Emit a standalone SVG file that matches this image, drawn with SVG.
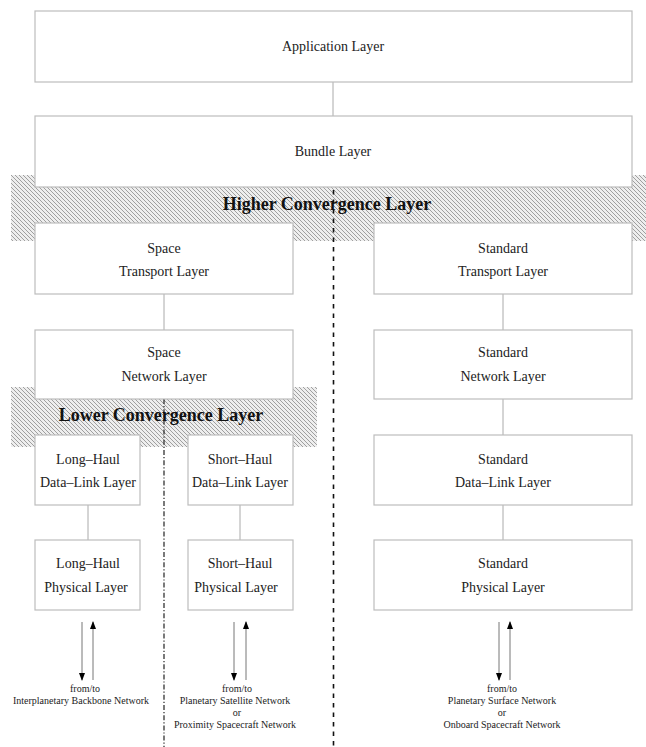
<svg xmlns="http://www.w3.org/2000/svg" width="646" height="747" viewBox="0 0 646 747">
<style>
.box{fill:#fff;stroke:#bdbdbd;stroke-width:1.2}
.lbl{font-family:"Liberation Serif","Times New Roman",serif;font-size:14px;fill:#222;text-anchor:middle}
.big{font-family:"Liberation Serif","Times New Roman",serif;font-size:18px;font-weight:bold;fill:#111;text-anchor:middle}
.sm{font-family:"Liberation Serif","Times New Roman",serif;font-size:10px;fill:#222;text-anchor:middle}
.conn{stroke:#aaa;stroke-width:1;fill:none}
.arr{stroke:#777;stroke-width:1;fill:none}
</style>
<defs>
<pattern id="hatch" patternUnits="userSpaceOnUse" width="4" height="4">
<rect width="4" height="4" fill="#eeeeee"/>
<path d="M-1,-1 L5,5 M-1,3 L1,5 M3,-1 L5,1" stroke="#8a8a8a" stroke-width="0.8"/>
</pattern>
<marker id="ah" markerWidth="8" markerHeight="8" refX="7" refY="3" orient="auto" markerUnits="userSpaceOnUse">
<path d="M0,0 L8,3 L0,6 Z" fill="#000"/>
</marker>
</defs>
<g id="hatches">
<rect x="11" y="175" width="635" height="66" fill="url(#hatch)"/>
<rect x="11" y="387" width="306" height="60" fill="url(#hatch)"/>
</g>
<g id="connectors">
<line class="conn" x1="333" y1="82" x2="333" y2="116"/>
<line class="conn" x1="164" y1="294" x2="164" y2="330"/>
<line class="conn" x1="503" y1="294" x2="503" y2="330"/>
<line class="conn" x1="503" y1="399" x2="503" y2="435"/>
<line class="conn" x1="88" y1="505" x2="88" y2="540"/>
<line class="conn" x1="240" y1="505" x2="240" y2="540"/>
<line class="conn" x1="503" y1="505" x2="503" y2="540"/>
<line class="arr" x1="82" y1="622" x2="82" y2="680" marker-end="url(#ah)"/>
<line class="arr" x1="93" y1="680" x2="93" y2="622" marker-end="url(#ah)"/>
<line class="arr" x1="234" y1="622" x2="234" y2="680" marker-end="url(#ah)"/>
<line class="arr" x1="246" y1="680" x2="246" y2="622" marker-end="url(#ah)"/>
<line class="arr" x1="499" y1="622" x2="499" y2="680" marker-end="url(#ah)"/>
<line class="arr" x1="510" y1="680" x2="510" y2="622" marker-end="url(#ah)"/>
<line x1="333.5" y1="190" x2="333.5" y2="747" stroke="#111" stroke-width="1.6" stroke-dasharray="4.5 5"/>
<line x1="164" y1="399" x2="164" y2="747" stroke="#222" stroke-width="1.2" stroke-dasharray="5 2 1.2 2"/>
</g>
<g id="application"><rect class="box" x="35" y="11" width="597" height="71"/><text class="lbl" x="333" y="51">Application Layer</text></g>
<g id="bundle"><rect class="box" x="35" y="116" width="597" height="71"/><text class="lbl" x="333" y="156">Bundle Layer</text></g>
<g id="higher-convergence"><text class="big" x="327" y="210">Higher Convergence Layer</text></g>
<g id="space-transport"><rect class="box" x="35" y="223" width="258" height="71"/><text class="lbl" x="164" y="253">Space</text><text class="lbl" x="164" y="276">Transport Layer</text></g>
<g id="standard-transport"><rect class="box" x="374" y="223" width="258" height="71"/><text class="lbl" x="503" y="253">Standard</text><text class="lbl" x="503" y="276">Transport Layer</text></g>
<g id="space-network"><rect class="box" x="35" y="330" width="258" height="69"/><text class="lbl" x="164" y="357">Space</text><text class="lbl" x="164" y="381">Network Layer</text></g>
<g id="standard-network"><rect class="box" x="374" y="330" width="258" height="69"/><text class="lbl" x="503" y="357">Standard</text><text class="lbl" x="503" y="381">Network Layer</text></g>
<g id="lower-convergence"><text class="big" x="161" y="421">Lower Convergence Layer</text></g>
<g id="longhaul-datalink"><rect class="box" x="35" y="435" width="105" height="70"/><text class="lbl" x="88" y="464">Long–Haul</text><text class="lbl" x="88" y="487">Data–Link Layer</text></g>
<g id="shorthaul-datalink"><rect class="box" x="188" y="435" width="105" height="70"/><text class="lbl" x="240" y="464">Short–Haul</text><text class="lbl" x="240" y="487">Data–Link Layer</text></g>
<g id="standard-datalink"><rect class="box" x="374" y="435" width="258" height="70"/><text class="lbl" x="503" y="464">Standard</text><text class="lbl" x="503" y="487">Data–Link Layer</text></g>
<g id="longhaul-physical"><rect class="box" x="35" y="540" width="105" height="70"/><text class="lbl" x="88" y="568">Long–Haul</text><text class="lbl" x="86" y="592">Physical Layer</text></g>
<g id="shorthaul-physical"><rect class="box" x="188" y="540" width="105" height="70"/><text class="lbl" x="240" y="568">Short–Haul</text><text class="lbl" x="236" y="592">Physical Layer</text></g>
<g id="standard-physical"><rect class="box" x="374" y="540" width="258" height="70"/><text class="lbl" x="503" y="568">Standard</text><text class="lbl" x="503" y="592">Physical Layer</text></g>
<g id="labels-bottom">
<text class="sm" x="85" y="692">from/to</text>
<text class="sm" x="81" y="704">Interplanetary Backbone Network</text>
<text class="sm" x="237" y="692">from/to</text>
<text class="sm" x="235" y="704">Planetary Satellite Network</text>
<text class="sm" x="237" y="716">or</text>
<text class="sm" x="235" y="728">Proximity Spacecraft Network</text>
<text class="sm" x="502" y="692">from/to</text>
<text class="sm" x="502" y="704">Planetary Surface Network</text>
<text class="sm" x="502" y="716">or</text>
<text class="sm" x="502" y="728">Onboard Spacecraft Network</text>
</g>
</svg>
